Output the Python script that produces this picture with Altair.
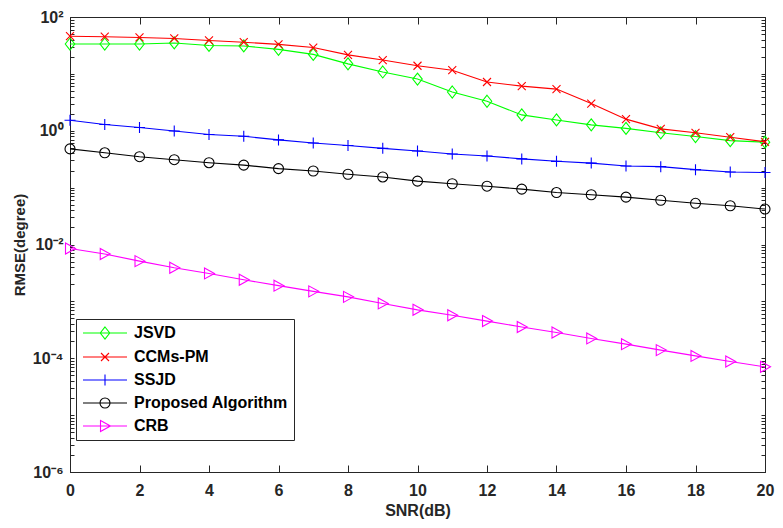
import altair as alt
import pandas as pd

snr = list(range(21))
jsvd = [33.5, 33.5, 33.5, 35, 31.6, 31, 27, 22, 15, 10.8, 8.1, 4.8, 3.3, 1.9, 1.55, 1.27, 1.1, 0.92, 0.79, 0.67, 0.63]
ccms = [46, 45, 43.7, 42, 38.7, 36, 33, 29, 21.6, 17.5, 13.9, 11.6, 7.2, 6.1, 5.4, 3.0, 1.6, 1.08, 0.92, 0.77, 0.64]
ssjd = [1.53, 1.29, 1.14, 0.99, 0.86, 0.80, 0.69, 0.61, 0.55, 0.49, 0.44, 0.39, 0.36, 0.32, 0.29, 0.27, 0.24, 0.234, 0.207, 0.188, 0.184]
proposed = [0.48, 0.41, 0.35, 0.31, 0.274, 0.249, 0.216, 0.196, 0.172, 0.154, 0.13, 0.117, 0.106, 0.094, 0.082, 0.075, 0.068, 0.06, 0.053, 0.048, 0.042]
crb = [0.0085, 0.0068, 0.0051, 0.0039, 0.0031, 0.0024, 0.00189, 0.0015, 0.0012, 0.00092, 0.00071, 0.00057, 0.00045, 0.000355, 0.000283, 0.000223, 0.000177, 0.000139, 0.00011, 0.0000877, 0.0000706]

names = ["JSVD", "CCMs-PM", "SSJD", "Proposed Algorithm", "CRB"]
colors = ["#00ff00", "#ff0000", "#0000ff", "#000000", "#ff00ff"]
series = [jsvd, ccms, ssjd, proposed, crb]

x_ticks = [0, 2, 4, 6, 8, 10, 12, 14, 16, 18, 20]
y_major = [1e-6, 1e-4, 1e-2, 1, 100]
y_all = [round(m * 10.0 ** k, 10) for k in range(-6, 2) for m in range(1, 10)] + [100]

# marker shapes (unit path, scaled by sqrt(size)/2)
marker_paths = [
    "M0,-1.2L0.95,0L0,1.2L-0.95,0Z",
    "M-0.8,-0.8L0.8,0.8M-0.8,0.8L0.8,-0.8",
    "M-1.1,0L1.1,0M0,-1.1L0,1.1",
    "circle",
    "M-0.9,-1.1L1.1,0L-0.9,1.1Z",
]
line_seg = "M-4.4,0L4.4,0"
legend_paths = [
    line_seg + "M0,-1.2L0.95,0L0,1.2L-0.95,0Z",
    line_seg + "M-0.8,-0.8L0.8,0.8M-0.8,0.8L0.8,-0.8",
    line_seg + "M-1.1,0L1.1,0M0,-1.1L0,1.1",
    line_seg + "M1,0A1,1,0,1,1,-1,0A1,1,0,1,1,1,0Z",
    line_seg + "M-0.9,-1.1L1.1,0L-0.9,1.1Z",
]

rows = []
for name, vals in zip(names, series):
    for s, v in zip(snr, vals):
        rows.append({"SNR": s, "RMSE": v, "Method": name})
df = pd.DataFrame(rows)

W, H = 695, 455
FONT = "Liberation Sans"
AX = "#262626"

xs = alt.Scale(domain=[0, 20], nice=False, zero=False)
ys = alt.Scale(type="log", domain=[1e-6, 100], nice=False)

base = alt.Chart(df)

layers = []
for name, col, path in zip(names, colors, marker_paths):
    sub = base.transform_filter(alt.datum.Method == name)
    layers.append(
        sub.mark_line(color=col, strokeWidth=1.1).encode(
            x=alt.X("SNR:Q", scale=xs, axis=None),
            y=alt.Y("RMSE:Q", scale=ys, axis=None),
        )
    )
    layers.append(
        sub.mark_point(shape=path, color=col, filled=False, size=100, strokeWidth=1.1, opacity=1).encode(
            x=alt.X("SNR:Q", scale=xs, axis=None),
            y=alt.Y("RMSE:Q", scale=ys, axis=None),
        )
    )

legend_kw = dict(
    title=None, orient="none", legendX=6, legendY=302,
    fillColor="white", strokeColor=AX, padding=6, cornerRadius=0,
    labelFont=FONT, labelFontSize=16, labelFontWeight="bold", labelColor="#000000",
    symbolSize=100, symbolStrokeWidth=1.1, symbolOpacity=1, symbolFillColor="transparent",
    symbolOffset=15, labelOffset=21, rowPadding=7, labelLimit=400,
)

# legend layer (invisible marks, visible legend)
legend_layer = base.mark_point(opacity=0, filled=False, size=100).encode(
    x=alt.X("SNR:Q", scale=xs, axis=None),
    y=alt.Y("RMSE:Q", scale=ys, axis=None),
    color=alt.Color("Method:N", scale=alt.Scale(domain=names, range=colors), legend=alt.Legend(**legend_kw)),
    shape=alt.Shape("Method:N", scale=alt.Scale(domain=names, range=legend_paths), legend=alt.Legend(**legend_kw)),
)
layers.append(legend_layer)

label_expr = "['10⁻⁶','','10⁻⁴','','10⁻²','','10⁰','','10²'][round(log(datum.value)/LN10)+6]"

# labeled axes
axis_a = base.mark_point(opacity=0).encode(
    x=alt.X("SNR:Q", scale=xs, axis=alt.Axis(
        orient="bottom", values=x_ticks, ticks=False, grid=False, domainColor=AX,
        labelFont=FONT, labelFontSize=16, labelFontWeight="bold", labelColor=AX, labelPadding=10,
        title="SNR(dB)", titleFont=FONT, titleFontSize=16, titleFontWeight="bold", titleColor=AX,
        titlePadding=4, labelFlush=False,
    )),
    y=alt.Y("RMSE:Q", scale=ys, axis=alt.Axis(
        orient="left", values=y_major, ticks=False, grid=False, domainColor=AX,
        labelExpr=label_expr, labelFont=FONT, labelFontSize=16, labelFontWeight="bold",
        labelColor=AX, labelPadding=7, labelFlush=False,
        title="RMSE(degree)", titleFont=FONT, titleFontSize=15, titleFontWeight="bold", titleColor=AX,
        titlePadding=5,
    )),
)
# inward ticks from bottom and left edges
axis_b = base.mark_point(opacity=0).encode(
    x=alt.X("SNR:Q", scale=xs, axis=alt.Axis(
        orient="top", offset=-H, values=x_ticks, labels=False, domain=False, grid=False,
        ticks=True, tickSize=7, tickColor=AX, title=None,
    )),
    y=alt.Y("RMSE:Q", scale=ys, axis=alt.Axis(
        orient="right", offset=-W, values=y_all, labels=False, domain=False, grid=False,
        ticks=True, tickSize=4, tickColor=AX, title=None,
    )),
)
# inward ticks from top and right edges
axis_c = base.mark_point(opacity=0).encode(
    x=alt.X("SNR:Q", scale=xs, axis=alt.Axis(
        orient="bottom", offset=-H, values=x_ticks, labels=False, domain=False, grid=False,
        ticks=True, tickSize=7, tickColor=AX, title=None,
    )),
    y=alt.Y("RMSE:Q", scale=ys, axis=alt.Axis(
        orient="left", offset=-W, values=y_all, labels=False, domain=False, grid=False,
        ticks=True, tickSize=4, tickColor=AX, title=None,
    )),
)

chart = alt.layer(axis_a, axis_b, axis_c, *layers).resolve_axis(
    x="independent", y="independent"
).properties(
    width=W, height=H,
    autosize=alt.AutoSizeParams(type="none"),
    padding={"left": 62, "top": 9, "right": 10, "bottom": 48},
).configure_view(stroke=AX, strokeWidth=1)

chart.save("out.html", embed_options={"renderer": "svg", "actions": False})
